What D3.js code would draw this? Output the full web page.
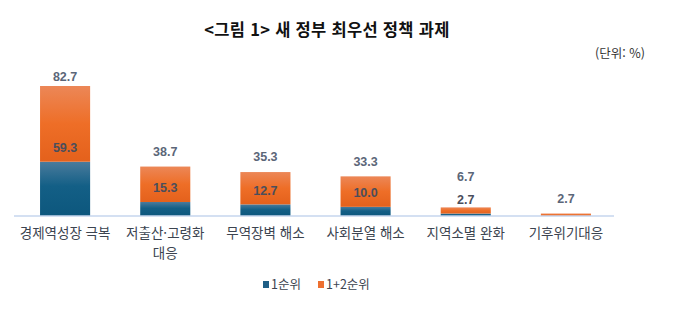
<!DOCTYPE html>
<html lang="ko">
<head>
<meta charset="utf-8">
<script src="https://cdn.jsdelivr.net/npm/d3@7"></script>
<style>
  html, body { margin: 0; padding: 0; background: #ffffff; }
  svg { display: block; font-family: "Noto Sans CJK KR", "Noto Sans", sans-serif; }
</style>
</head>
<body>
<svg id="chart" width="680" height="330"></svg>
<script>
// 새 정부 최우선 정책 과제 (단위: %)
const categories = ["경제역성장 극복", "저출산·고령화 대응", "무역장벽 해소", "사회분열 해소", "지역소멸 완화", "기후위기대응"];
const firstRank = [59.3, 15.3, 12.7, 10.0, 2.7, 0];
const firstSecondRank = [82.7, 38.7, 35.3, 33.3, 6.7, 2.7];
const seriesNames = ["1순위", "1+2순위"];

const svg = d3.select("#chart");
const baseY = 216, topY = 86;

const rows = categories.map((c, i) => ({ cat: c, s1: firstRank[i], s2: firstSecondRank[i] }));
const stacked = d3.stack().keys(["s1", "s2"])(rows);

const x = d3.scaleBand().domain(categories).range([15, 616]).paddingInner(0.5).paddingOuter(0.25);
const yMax = d3.max(rows, d => d.s1 + d.s2);
const y = d3.scaleLinear().domain([0, yMax]).range([baseY, topY]);

// gradients
const defs = svg.append("defs");
const blueGrad = defs.append("linearGradient").attr("id", "gBlue").attr("x1", 0).attr("y1", 0).attr("x2", 0).attr("y2", 1);
blueGrad.append("stop").attr("offset", "0%").attr("stop-color", "#4a7b9c");
blueGrad.append("stop").attr("offset", "45%").attr("stop-color", "#135f86");
blueGrad.append("stop").attr("offset", "100%").attr("stop-color", "#0d577d");
const orangeGrad = defs.append("linearGradient").attr("id", "gOrange").attr("x1", 0).attr("y1", 0).attr("x2", 0).attr("y2", 1);
orangeGrad.append("stop").attr("offset", "0%").attr("stop-color", "#ec8757");
orangeGrad.append("stop").attr("offset", "50%").attr("stop-color", "#ee6e27");
orangeGrad.append("stop").attr("offset", "100%").attr("stop-color", "#e4611c");
const fills = ["url(#gBlue)", "url(#gOrange)"];
const legendColors = ["#1f5f86", "#ee7030"];

// title and unit
svg.append("text").attr("x", 327).attr("y", 30).attr("dy", "0.35em")
  .attr("text-anchor", "middle").attr("font-size", 16.5).attr("font-weight", 700).attr("fill", "#111")
  .attr("letter-spacing", 0.3)
  .text("<그림 1> 새 정부 최우선 정책 과제");
svg.append("text").attr("x", 645).attr("y", 54).attr("dy", "0.35em")
  .attr("text-anchor", "end").attr("font-size", 12.5).attr("fill", "#333")
  .text("(단위: %)");

// bars
stacked.forEach((layer, k) => {
  svg.append("g").selectAll("rect").data(layer).join("rect")
    .attr("x", d => x(d.data.cat))
    .attr("width", x.bandwidth())
    .attr("y", d => y(d[1]))
    .attr("height", d => Math.max(0, y(d[0]) - y(d[1])))
    .attr("fill", fills[k]);
});

// axis baseline
const xAxis = svg.append("g").attr("transform", `translate(0,${baseY})`)
  .call(d3.axisBottom(x).tickSize(0).tickPadding(12));
xAxis.select(".domain").attr("stroke", "#c6d6ee").attr("stroke-width", 1.5)
  .attr("d", `M14,0H614`);
xAxis.selectAll(".tick text")
  .attr("font-size", 13.5).attr("fill", "#3c4450")
  .attr("font-family", "'Noto Sans CJK KR', sans-serif")
  .each(function (d) {
    const t = d3.select(this);
    const words = d.split(" ");
    t.text(null);
    const ruler = t.append("tspan").attr("x", 0).text(d);
    if (ruler.node().getComputedTextLength() > x.step() && words.length > 1) {
      ruler.remove();
      words.forEach((w, i) => {
        t.append("tspan").attr("x", 0).attr("dy", i === 0 ? "0.71em" : "1.5em").text(w);
      });
    } else {
      ruler.attr("dy", "0.71em");
    }
  });

// value labels
const labels = svg.append("g").attr("font-size", 12.5).attr("font-weight", 700).attr("text-anchor", "middle")
  .attr("font-family", "'Liberation Sans', Arial, sans-serif");
rows.forEach(d => {
  const cx = x(d.cat) + x.bandwidth() / 2;
  let innerY = null;
  if (d.s1 > 0) {
    innerY = y(d.s1) - 14;
    labels.append("text").attr("x", cx).attr("y", innerY).attr("dy", "0.35em")
      .attr("fill", "#4a4e5c").text(d3.format(".1f")(d.s1));
  }
  let topLabelY = y(d.s1 + d.s2) - 15;
  if (innerY !== null) topLabelY = Math.min(topLabelY, innerY - 23);
  topLabelY = Math.max(topLabelY, 77);
  labels.append("text").attr("x", cx).attr("y", topLabelY).attr("dy", "0.35em")
    .attr("fill", "#5b6678").text(d3.format(".1f")(d.s2));
});

// legend
const legend = svg.append("g").attr("font-size", 12.5);
const legendX = [263, 318];
seriesNames.forEach((name, i) => {
  legend.append("rect").attr("x", legendX[i]).attr("y", 281).attr("width", 6).attr("height", 7).attr("fill", legendColors[i]);
  legend.append("text").attr("x", legendX[i] + 8).attr("y", 285).attr("dy", "0.35em").attr("fill", "#3c4450").text(name);
});
</script>
</body>
</html>
